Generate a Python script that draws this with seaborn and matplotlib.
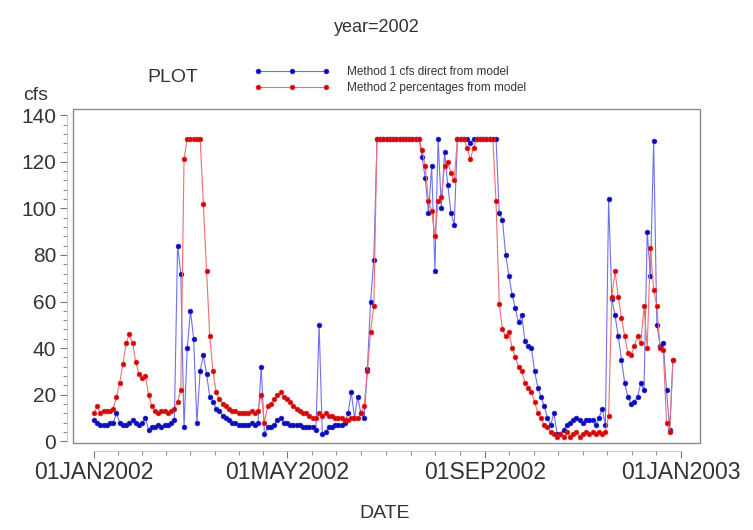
import numpy as np
import pandas as pd
import seaborn as sns
import matplotlib.pyplot as plt
import matplotlib.dates as mdates
from matplotlib.patches import Rectangle

# values, one every 2 days from 01JAN2002
start = "2002-01-01"
method1 = [9, 8, 7, 7, 7, 8, 8, 12, 8, 7,
           7, 8, 9, 8, 7, 8, 10, 5, 6, 6,
           7, 6, 7, 7, 8, 9, 84, 72, 6, 40,
           56, 44, 8, 30, 37, 29, 19, 17, 14, 13,
           11, 10, 9, 8, 8, 7, 7, 7, 7, 8,
           7, 8, 32, 3, 6, 6, 7, 9, 10, 8,
           8, 7, 7, 7, 7, 6, 6, 6, 6, 5,
           50, 3, 4, 6, 6, 7, 7, 7, 8, 12,
           21, 10, 19, 12, 10, 31, 60, 78, 130, 130,
           130, 130, 130, 130, 130, 130, 130, 130, 130, 130,
           130, 130, 122, 113, 98, 118, 73, 130, 100, 124,
           110, 98, 93, 130, 130, 130, 130, 128, 130, 130,
           130, 130, 130, 130, 130, 130, 98, 95, 80, 71,
           63, 57, 51, 54, 43, 41, 40, 30, 23, 19,
           15, 10, 7, 12, 3, 3, 5, 7, 8, 9,
           10, 9, 8, 9, 9, 9, 7, 10, 14, 7,
           104, 61, 54, 45, 35, 25, 19, 16, 17, 19,
           25, 22, 90, 71, 129, 50, 41, 42, 22, 5,
           35]
method2 = [12, 15, 12, 13, 13, 13, 14, 19, 25, 33,
           42, 46, 42, 34, 29, 27, 28, 20, 15, 13,
           12, 13, 13, 12, 13, 14, 17, 22, 121, 130,
           130, 130, 130, 130, 102, 73, 45, 30, 21, 18,
           16, 15, 14, 13, 13, 12, 12, 12, 12, 13,
           12, 13, 20, 8, 15, 16, 18, 20, 21, 19,
           18, 17, 15, 14, 13, 12, 12, 11, 10, 10,
           12, 11, 12, 11, 11, 10, 10, 10, 9, 9,
           10, 10, 10, 12, 15, 30, 47, 58, 130, 130,
           130, 130, 130, 130, 130, 130, 130, 130, 130, 130,
           130, 130, 125, 118, 103, 99, 88, 103, 105, 118,
           120, 115, 112, 130, 130, 130, 126, 121, 126, 130,
           130, 130, 130, 130, 130, 103, 59, 48, 45, 47,
           40, 36, 32, 30, 25, 23, 21, 17, 12, 10,
           7, 6, 4, 3, 2, 3, 2, 4, 2, 3,
           4, 2, 3, 4, 3, 4, 3, 4, 3, 4,
           11, 62, 73, 62, 53, 45, 38, 37, 41, 45,
           42, 58, 40, 83, 65, 58, 40, 39, 8, 4,
           35]

labels = ["Method 1 cfs direct from model", "Method 2 percentages from model"]
major_dates = ["2002-01-01", "2002-05-01", "2002-09-01", "2003-01-01"]
major_labels = ["01JAN2002", "01MAY2002", "01SEP2002", "01JAN2003"]
yticks = [0, 20, 40, 60, 80, 100, 120, 140]

dates = pd.date_range(start, periods=len(method1), freq="2D")
df = pd.DataFrame({"DATE": dates, "m1": method1, "m2": method2})

sns.set_style("white")
plt.rcParams["font.family"] = ["Liberation Sans", "DejaVu Sans"]
txt = "#333333"

fig = plt.figure(figsize=(7.53, 5.30), dpi=100)
ax = fig.add_axes([0.097, 0.164, 0.833, 0.630])

sns.lineplot(data=df, x="DATE", y="m1", ax=ax, color="#7070f0", lw=0.8,
             marker="o", ms=3.4, markerfacecolor="#0a0ab4",
             markeredgecolor="#2020d0", markeredgewidth=0.5, legend=False)
sns.lineplot(data=df, x="DATE", y="m2", ax=ax, color="#f07070", lw=0.8,
             marker="o", ms=3.4, markerfacecolor="#c80a0a",
             markeredgecolor="#e82020", markeredgewidth=0.5, legend=False)

ax.set_xlim(pd.Timestamp("2001-12-19"), pd.Timestamp("2003-01-13"))
ax.set_ylim(-0.8, 142.6)

major = mdates.date2num(pd.to_datetime(major_dates))
minor = np.concatenate([np.linspace(a, b, 9)[1:-1] for a, b in zip(major[:-1], major[1:])])
ax.set_xticks(major)
ax.set_xticklabels(major_labels)
ax.set_xticks(minor, minor=True)
ax.set_yticks(yticks)
ax.set_yticks(np.arange(0, 141, 4), minor=True)

ax.set_xlabel("")
ax.set_ylabel("")
for side in ["top", "right"]:
    ax.spines[side].set_visible(False)
ax.spines["left"].set_position(("outward", 4))
ax.spines["bottom"].set_position(("outward", 6))
ax.spines["left"].set_bounds(0, 140)
ax.spines["bottom"].set_bounds(major[0], major[-1])
for side in ["left", "bottom"]:
    ax.spines[side].set_color("#c0c0c0")
    ax.spines[side].set_linewidth(0.6)
ax.add_patch(Rectangle((0, 0), 1, 1, transform=ax.transAxes, fill=False,
                       edgecolor="#8a8a8a", lw=1.0, clip_on=False, zorder=5))

ax.tick_params(axis="both", which="both", bottom=True, left=True)
ax.tick_params(axis="both", which="major", direction="out", length=5, width=0.8,
               color="#777777", labelcolor=txt)
ax.tick_params(axis="both", which="minor", direction="out", length=3, width=0.7,
               color="#888888")
ax.tick_params(axis="x", which="major", pad=2, labelsize=16.5)
ax.tick_params(axis="y", which="major", pad=3, labelsize=15)

fig.text(0.5, 1 - 27 / 530, "year=2002", ha="center", va="center", fontsize=13, color=txt)
fig.text(173 / 753, 1 - 77 / 530, "PLOT", ha="center", va="center", fontsize=14, color=txt)
fig.text(36 / 753, 1 - 95 / 530, "cfs", ha="center", va="center", fontsize=14, color=txt)
fig.text(385 / 753, 1 - 513 / 530, "DATE", ha="center", va="center", fontsize=14, color=txt)

fig.legend(handles=ax.get_lines()[:2], labels=labels, numpoints=3,
           loc="upper left", bbox_to_anchor=(254 / 753, 1 - 66 / 530),
           frameon=False, fontsize=8.5, handlelength=6.4, handletextpad=1.5,
           labelspacing=0.35, borderpad=0, borderaxespad=0, labelcolor=txt)

fig.savefig("out.png", dpi=100)
